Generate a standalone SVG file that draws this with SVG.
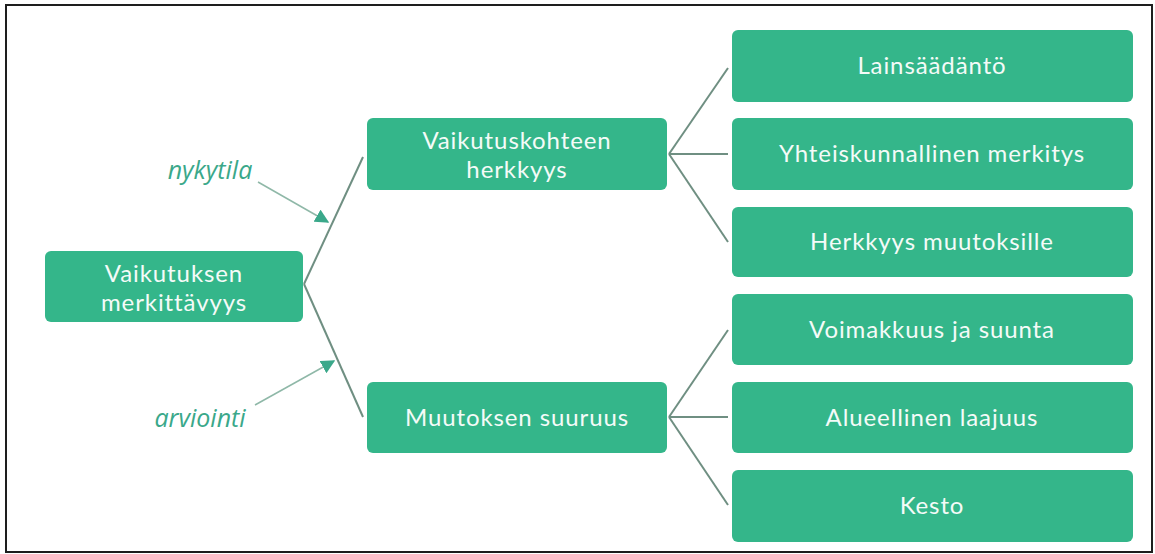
<svg xmlns="http://www.w3.org/2000/svg" width="1155" height="554" viewBox="0 0 1155 554">
<style>
.box{fill:#34b68a;}
.t{font-family:Lato,"Open Sans","Liberation Sans",sans-serif;font-size:24px;letter-spacing:0.9px;fill:#f4fbf8;text-anchor:middle;}
.lab{font-family:"Open Sans","Liberation Sans",sans-serif;font-size:25px;font-style:italic;fill:#3aa88a;text-anchor:middle;}
.c{stroke:#6f8f82;stroke-width:2;fill:none;}
.a{stroke:#8fb8a8;stroke-width:1.5;fill:none;}
</style>
<defs>
<marker id="ah" viewBox="0 0 10 10" refX="9" refY="5" markerWidth="14" markerHeight="14" markerUnits="userSpaceOnUse" orient="auto">
<path d="M0,0 L10,5 L0,10 z" fill="#3aa88a"/>
</marker>
</defs>
<rect x="0" y="0" width="1155" height="554" fill="#ffffff"/>
<rect x="6" y="5" width="1146" height="547" fill="none" stroke="#1e1e1e" stroke-width="2"/>
<g id="connectors">
<line class="c" x1="304" y1="284" x2="363" y2="157"/>
<line class="c" x1="304" y1="284" x2="363" y2="417"/>
<line class="c" x1="669" y1="154" x2="728" y2="68"/>
<line class="c" x1="669" y1="154" x2="728" y2="154"/>
<line class="c" x1="669" y1="154" x2="728" y2="242"/>
<line class="c" x1="669" y1="417" x2="728" y2="330"/>
<line class="c" x1="669" y1="417" x2="728" y2="417"/>
<line class="c" x1="669" y1="417" x2="728" y2="505"/>
<line class="a" x1="258" y1="182" x2="328" y2="222" marker-end="url(#ah)"/>
<line class="a" x1="255" y1="405" x2="334" y2="361" marker-end="url(#ah)"/>
</g>
<g id="label-nykytila"><text class="lab" x="210" y="179">nykytila</text></g>
<g id="label-arviointi"><text class="lab" x="200" y="427">arviointi</text></g>
<g id="n-merkittavyys">
<rect class="box" x="45" y="251" width="258" height="71" rx="6"/>
<text class="t" x="174" y="282">Vaikutuksen</text>
<text class="t" x="174" y="311">merkittävyys</text>
</g>
<g id="n-herkkyys">
<rect class="box" x="367" y="118" width="300" height="72" rx="6"/>
<text class="t" x="517" y="149">Vaikutuskohteen</text>
<text class="t" x="517" y="178">herkkyys</text>
</g>
<g id="n-suuruus">
<rect class="box" x="367" y="382" width="300" height="71" rx="6"/>
<text class="t" x="517" y="426">Muutoksen suuruus</text>
</g>
<g id="n-lainsaadanto">
<rect class="box" x="732" y="30" width="401" height="72" rx="6"/>
<text class="t" x="932" y="74">Lainsäädäntö</text>
</g>
<g id="n-yhteiskunnallinen">
<rect class="box" x="732" y="118" width="401" height="72" rx="6"/>
<text class="t" x="932" y="162">Yhteiskunnallinen merkitys</text>
</g>
<g id="n-herkkyys-muutoksille">
<rect class="box" x="732" y="207" width="401" height="70" rx="6"/>
<text class="t" x="932" y="250">Herkkyys muutoksille</text>
</g>
<g id="n-voimakkuus">
<rect class="box" x="732" y="294" width="401" height="71" rx="6"/>
<text class="t" x="932" y="338">Voimakkuus ja suunta</text>
</g>
<g id="n-alueellinen">
<rect class="box" x="732" y="382" width="401" height="71" rx="6"/>
<text class="t" x="932" y="426">Alueellinen laajuus</text>
</g>
<g id="n-kesto">
<rect class="box" x="732" y="470" width="401" height="72" rx="6"/>
<text class="t" x="932" y="514">Kesto</text>
</g>
</svg>
